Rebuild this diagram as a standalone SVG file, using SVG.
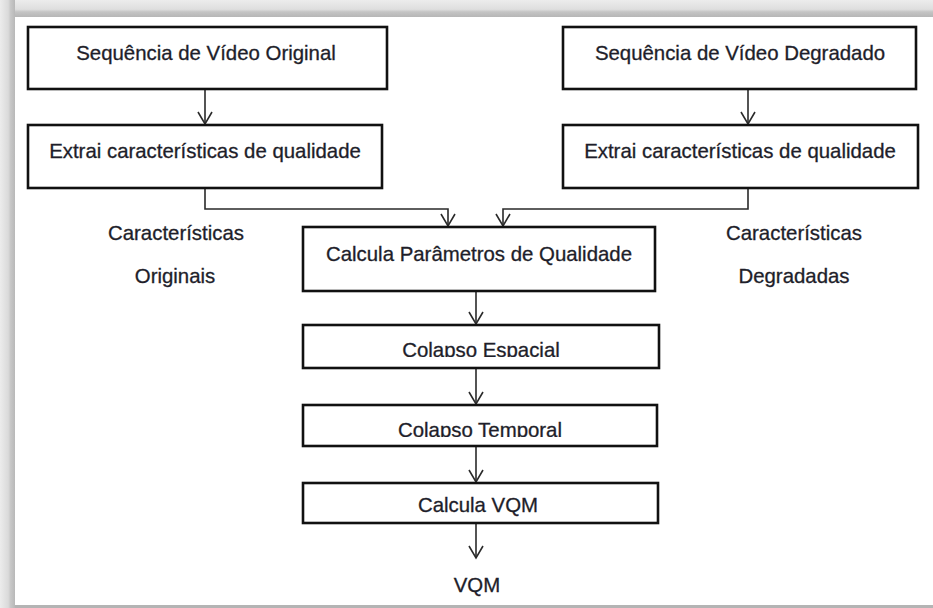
<svg xmlns="http://www.w3.org/2000/svg" width="933" height="608" viewBox="0 0 933 608">
  <defs>
    <style>
      .box { fill: #ffffff; stroke: #111111; stroke-width: 2.6; }
      .lbl { font-family: "Liberation Sans", Arial, sans-serif; font-size: 20.4px; fill: #1e1e2a; stroke: #1e1e2a; stroke-width: 0.3; text-anchor: middle; }
      .con { fill: none; stroke: #2a2a2a; stroke-width: 1.6; }
    </style>
    <marker id="arr" viewBox="0 0 14 16" refX="13" refY="8" markerWidth="14" markerHeight="16" markerUnits="userSpaceOnUse" orient="auto" overflow="visible">
      <path d="M1,1 L13,8 L1,15" fill="none" stroke="#2a2a2a" stroke-width="1.6"/>
    </marker>
    <linearGradient id="gTop" x1="0" y1="0" x2="0" y2="1">
      <stop offset="0" stop-color="#ececec"/>
      <stop offset="0.55" stop-color="#dedede"/>
      <stop offset="0.7" stop-color="#c4c4c4"/>
      <stop offset="1" stop-color="#b6b6b6"/>
    </linearGradient>
    <linearGradient id="gLeft" x1="0" y1="0" x2="1" y2="0">
      <stop offset="0" stop-color="#ececec"/>
      <stop offset="0.55" stop-color="#dadada"/>
      <stop offset="0.7" stop-color="#c8c8c8"/>
      <stop offset="1" stop-color="#b8b8b8"/>
    </linearGradient>
    <clipPath id="clipEsp"><rect x="303" y="325" width="356" height="32"/></clipPath>
    <clipPath id="clipTemp"><rect x="303" y="405" width="354" height="32"/></clipPath>
  </defs>

  <g id="frame">
    <rect x="0" y="0" width="933" height="608" fill="#ffffff"/>
    <rect x="0" y="0" width="933" height="17" fill="url(#gTop)"/>
    <rect x="0" y="0" width="15" height="608" fill="url(#gLeft)"/>
    <rect x="15" y="605" width="918" height="3" fill="#b4b4b4"/>
  </g>

  <g id="connectors">
    <line class="con" x1="205" y1="89" x2="205" y2="124" marker-end="url(#arr)"/>
    <line class="con" x1="748" y1="89" x2="748" y2="124" marker-end="url(#arr)"/>
    <polyline class="con" points="205,188 205,209 448,209 448,226" marker-end="url(#arr)"/>
    <polyline class="con" points="748,188 748,209 503,209 503,226" marker-end="url(#arr)"/>
    <line class="con" x1="476" y1="291" x2="476" y2="324" marker-end="url(#arr)"/>
    <line class="con" x1="476" y1="368" x2="476" y2="404" marker-end="url(#arr)"/>
    <line class="con" x1="476" y1="446" x2="476" y2="482" marker-end="url(#arr)"/>
    <line class="con" x1="476" y1="523" x2="476" y2="558" marker-end="url(#arr)"/>
  </g>

  <g id="seq-original">
    <rect class="box" x="28" y="27" width="359" height="62"/>
    <text class="lbl" x="206" y="60">Sequência de Vídeo Original</text>
  </g>
  <g id="seq-degradado">
    <rect class="box" x="563" y="27" width="353" height="62"/>
    <text class="lbl" x="740" y="60">Sequência de Vídeo Degradado</text>
  </g>
  <g id="extrai-original">
    <rect class="box" x="28" y="125" width="354" height="63"/>
    <text class="lbl" x="205" y="158">Extrai características de qualidade</text>
  </g>
  <g id="extrai-degradado">
    <rect class="box" x="563" y="125" width="355" height="63"/>
    <text class="lbl" x="740" y="158">Extrai características de qualidade</text>
  </g>
  <g id="caract-originais">
    <text class="lbl" x="176" y="240">Características</text>
    <text class="lbl" x="175" y="283">Originais</text>
  </g>
  <g id="caract-degradadas">
    <text class="lbl" x="794" y="240">Características</text>
    <text class="lbl" x="794" y="283">Degradadas</text>
  </g>
  <g id="calcula-parametros">
    <rect class="box" x="303" y="227" width="352" height="64"/>
    <text class="lbl" x="479" y="261">Calcula Parâmetros de Qualidade</text>
  </g>
  <g id="colapso-espacial">
    <rect class="box" x="303" y="325" width="356" height="43"/>
    <text class="lbl" x="481" y="357" clip-path="url(#clipEsp)">Colapso Espacial</text>
  </g>
  <g id="colapso-temporal">
    <rect class="box" x="303" y="405" width="354" height="41"/>
    <text class="lbl" x="480" y="437" clip-path="url(#clipTemp)">Colapso Temporal</text>
  </g>
  <g id="calcula-vqm">
    <rect class="box" x="303" y="483" width="355" height="40"/>
    <text class="lbl" x="478" y="512">Calcula VQM</text>
  </g>
  <g id="vqm">
    <text class="lbl" x="477" y="592">VQM</text>
  </g>
</svg>
